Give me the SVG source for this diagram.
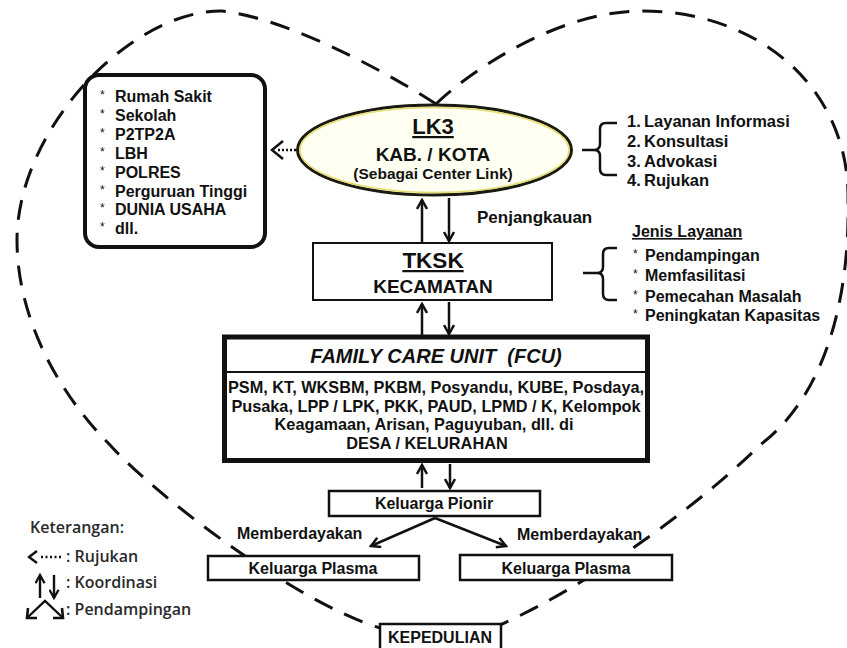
<svg xmlns="http://www.w3.org/2000/svg" width="847" height="648" viewBox="0 0 847 648">
<defs>
<marker id="ah" viewBox="0 0 12 12" refX="10" refY="6" markerWidth="12" markerHeight="12" markerUnits="userSpaceOnUse" orient="auto">
<path d="M1,1 L10,6 L1,11" fill="none" stroke="#111" stroke-width="2.5"/>
</marker>
<marker id="ahs" viewBox="0 0 12 12" refX="10" refY="6" markerWidth="11" markerHeight="11" markerUnits="userSpaceOnUse" orient="auto-start-reverse">
<path d="M1,1 L10,6 L1,11" fill="none" stroke="#111" stroke-width="2.5"/>
</marker>
</defs>
<style>
text{font-family:"Liberation Sans",Arial,sans-serif;font-weight:bold;fill:#111}
.box{fill:#fff;stroke:#111}
.ar{stroke:#111;stroke-width:2.5;fill:none;marker-end:url(#ah)}
.heart{fill:none;stroke:#111;stroke-width:3;stroke-dasharray:20 13}
.ast{font-weight:normal;font-size:12px}
.lg{font-family:"Open Sans","Noto Sans",sans-serif;font-weight:600;fill:#2a2a2a;font-size:16px}
</style>
<rect width="847" height="648" fill="#fff"/>

<g id="heart">
<path class="heart" d="M436,104 C415,90 300,20 222,11 C130,10 17,130 17,240 C17,320 60,395 110,445 C150,490 290,600 380,628 L440,648"/>
<path class="heart" d="M436,104 C460,80 550,12 640,11 C760,10 850,90 848,200 C850,310 820,400 760,445 C710,495 600,580 500,625 L440,648"/>
</g>

<g id="connectors">
<line x1="296" y1="150" x2="276" y2="150" stroke="#111" stroke-width="2.5" stroke-dasharray="2 2"/>
<path d="M283,141 L272,150 L283,159" fill="none" stroke="#111" stroke-width="2.5"/>
<line class="ar" x1="422" y1="243" x2="422" y2="200"/>
<line class="ar" x1="449" y1="198" x2="449" y2="241"/>
<line class="ar" x1="422" y1="336" x2="422" y2="304"/>
<line class="ar" x1="449" y1="302" x2="449" y2="334"/>
<line class="ar" x1="422" y1="488" x2="422" y2="465"/>
<line class="ar" x1="450" y1="464" x2="450" y2="488"/>
<line class="ar" x1="435" y1="518" x2="371" y2="546"/>
<line class="ar" x1="435" y1="518" x2="506" y2="546"/>
<path d="M582,150 H598 M617,123 H606 Q600,123 600,129 V144 Q600,150 594,150 Q600,150 600,156 V169 Q600,175 606,175 H617" fill="none" stroke="#111" stroke-width="2.5"/>
<path d="M583,273 H598 M617,248 H609 Q603,248 603,254 V267 Q603,273 597,273 Q603,273 603,279 V294 Q603,300 609,300 H617" fill="none" stroke="#111" stroke-width="2.5"/>
</g>

<g id="mitra">
<rect class="box" x="85" y="75" width="180" height="172" rx="14" stroke-width="4"/>
<text class="ast" x="100" y="99">*</text><text x="115" y="102" font-size="16">Rumah Sakit</text>
<text class="ast" x="100" y="118">*</text><text x="115" y="121" font-size="16">Sekolah</text>
<text class="ast" x="100" y="137">*</text><text x="115" y="140" font-size="16">P2TP2A</text>
<text class="ast" x="100" y="156">*</text><text x="115" y="159" font-size="16">LBH</text>
<text class="ast" x="100" y="175">*</text><text x="115" y="178" font-size="16">POLRES</text>
<text class="ast" x="100" y="194">*</text><text x="115" y="197" font-size="16">Perguruan Tinggi</text>
<text class="ast" x="100" y="212">*</text><text x="115" y="215" font-size="16">DUNIA USAHA</text>
<text class="ast" x="100" y="231">*</text><text x="115" y="234" font-size="16">dll.</text>
</g>

<g id="lk3">
<ellipse cx="434.5" cy="150" rx="137" ry="45" fill="#fffff2" stroke="#1a1a10" stroke-width="3"/>
<ellipse cx="434.5" cy="150" rx="134.5" ry="42.5" fill="none" stroke="#e4dc6a" stroke-width="1.5"/>
<text x="433" y="134" font-size="22" text-anchor="middle" text-decoration="underline">LK3</text>
<text x="433" y="161" font-size="19" text-anchor="middle">KAB. / KOTA</text>
<text x="433" y="179" font-size="15.5" text-anchor="middle">(Sebagai Center Link)</text>
</g>

<g id="layanan-lk3">
<text x="627" y="127" font-size="16.5">1.</text><text x="644" y="127" font-size="16.5">Layanan Informasi</text>
<text x="627" y="147" font-size="16.5">2.</text><text x="644" y="147" font-size="16.5">Konsultasi</text>
<text x="627" y="167" font-size="16.5">3.</text><text x="644" y="167" font-size="16.5">Advokasi</text>
<text x="627" y="186" font-size="16.5">4.</text><text x="644" y="186" font-size="16.5">Rujukan</text>
</g>

<g id="penjangkauan">
<text x="477" y="223" font-size="17">Penjangkauan</text>
</g>

<g id="tksk">
<rect class="box" x="313" y="243" width="239" height="57" stroke-width="2"/>
<text x="433" y="268" font-size="22.5" text-anchor="middle" text-decoration="underline">TKSK</text>
<text x="433" y="293" font-size="19" text-anchor="middle">KECAMATAN</text>
</g>

<g id="jenis-layanan">
<text x="632" y="237" font-size="16" text-decoration="underline">Jenis Layanan</text>
<text class="ast" x="633" y="258">*</text><text x="645" y="261" font-size="16">Pendampingan</text>
<text class="ast" x="633" y="278">*</text><text x="645" y="281" font-size="16">Memfasilitasi</text>
<text class="ast" x="633" y="299">*</text><text x="645" y="302" font-size="16">Pemecahan Masalah</text>
<text class="ast" x="633" y="318">*</text><text x="645" y="321" font-size="16">Peningkatan Kapasitas</text>
</g>

<g id="fcu">
<rect class="box" x="224.5" y="337" width="423" height="123.5" stroke-width="5"/>
<line x1="224" y1="372" x2="648" y2="372" stroke="#111" stroke-width="2"/>
<text x="436" y="363" font-size="20" font-style="italic" text-anchor="middle" style="white-space:pre">FAMILY CARE UNIT  (FCU)</text>
<text x="436" y="393" font-size="16.3" text-anchor="middle">PSM, KT, WKSBM, PKBM, Posyandu, KUBE, Posdaya,</text>
<text x="436" y="412" font-size="16.3" text-anchor="middle">Pusaka, LPP / LPK, PKK, PAUD, LPMD / K, Kelompok</text>
<text x="424" y="430" font-size="16.3" text-anchor="middle">Keagamaan, Arisan, Paguyuban, dll. di</text>
<text x="427" y="449" font-size="16.3" text-anchor="middle">DESA / KELURAHAN</text>
</g>

<g id="pionir">
<rect class="box" x="329" y="491" width="211" height="25" stroke-width="2.5"/>
<text x="434" y="509" font-size="16" text-anchor="middle">Keluarga Pionir</text>
</g>

<g id="memberdayakan">
<text x="237" y="539" font-size="16">Memberdayakan</text>
<text x="517" y="540" font-size="16">Memberdayakan</text>
</g>

<g id="plasma-kiri">
<rect class="box" x="208" y="556" width="211" height="24" stroke-width="2.5"/>
<text x="313" y="574" font-size="16" text-anchor="middle">Keluarga Plasma</text>
</g>

<g id="plasma-kanan">
<rect class="box" x="460" y="555" width="212" height="25" stroke-width="2.5"/>
<text x="566" y="574" font-size="16" text-anchor="middle">Keluarga Plasma</text>
</g>

<g id="kepedulian">
<rect class="box" x="380" y="624" width="121" height="30" stroke-width="2.5"/>
<text x="440" y="643" font-size="16" text-anchor="middle">KEPEDULIAN</text>
</g>

<g id="keterangan">
<text class="lg" x="30" y="533">Keterangan:</text>
<path d="M37,551 L29,557 L37,563" fill="none" stroke="#111" stroke-width="2.4"/>
<line x1="41" y1="557" x2="61" y2="557" stroke="#111" stroke-width="2.4" stroke-dasharray="2 2.5"/>
<text class="lg" x="66" y="562">: Rujukan</text>
<line x1="40" y1="598" x2="40" y2="575" stroke="#111" stroke-width="2.4" marker-end="url(#ahs)"/>
<line x1="54" y1="575" x2="54" y2="598" stroke="#111" stroke-width="2.4" marker-end="url(#ahs)"/>
<text class="lg" x="66" y="588">: Koordinasi</text>
<polyline points="28,617 45,601 62,617" fill="none" stroke="#111" stroke-width="2.4"/>
<path d="M28,608 L27,618 L37,618 M53,618 L63,618 L62,608" fill="none" stroke="#111" stroke-width="2.6"/>
<text class="lg" x="66" y="615">: Pendampingan</text>
</g>
</svg>
